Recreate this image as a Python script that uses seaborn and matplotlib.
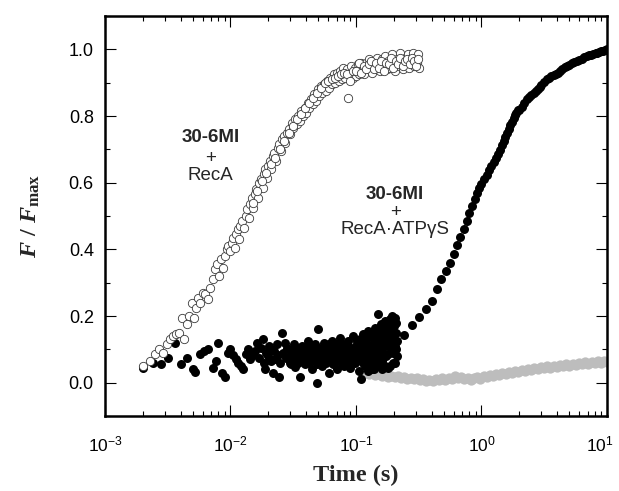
import numpy as np
import pandas as pd
import seaborn as sns
import matplotlib
matplotlib.use('Agg')
import matplotlib.pyplot as plt
from matplotlib.ticker import LogLocator, MultipleLocator, FormatStrFormatter
from matplotlib.transforms import ScaledTranslation

# 30-6MI + RecA (open circles)
reca_t = [0.0020, 0.0023, 0.0025, 0.0027, 0.0029, 0.0031, 0.0033, 0.0035, 0.0037, 0.0039,
          0.0041, 0.0043, 0.0045, 0.0047, 0.0049, 0.0051, 0.0053, 0.0055, 0.0057, 0.0060,
          0.0063, 0.0066, 0.0069, 0.0072, 0.0075, 0.0078, 0.0081, 0.0084, 0.0087, 0.0090,
          0.0093, 0.0096, 0.0099, 0.0102, 0.0105, 0.0108, 0.0111, 0.0114, 0.0117, 0.0120,
          0.0124, 0.0128, 0.0132, 0.0136, 0.0140, 0.0144, 0.0148, 0.0152, 0.0156, 0.0160,
          0.0165, 0.0170, 0.0175, 0.0180, 0.0185, 0.0190, 0.0195, 0.0200, 0.0206, 0.0212,
          0.0218, 0.0224, 0.0230, 0.0237, 0.0244, 0.0251, 0.0258, 0.0266, 0.0274, 0.0282,
          0.0290, 0.0299, 0.0308, 0.0317, 0.0327, 0.0337, 0.0347, 0.0357, 0.0368, 0.0379,
          0.0390, 0.0402, 0.0414, 0.0426, 0.0439, 0.0452, 0.0466, 0.0480, 0.0494, 0.0509,
          0.0524, 0.0540, 0.0556, 0.0573, 0.0590, 0.0608, 0.0626, 0.0645, 0.0664, 0.0684,
          0.0705, 0.0726, 0.0748, 0.0770, 0.0793, 0.0817, 0.0842, 0.0867, 0.0893, 0.0920,
          0.0948, 0.0976, 0.1005, 0.1035, 0.1066, 0.1098, 0.1131, 0.1165, 0.1200, 0.1236,
          0.1273, 0.1311, 0.1350, 0.1391, 0.1433, 0.1476, 0.1520, 0.1566, 0.1613, 0.1661,
          0.1711, 0.1762, 0.1815, 0.1870, 0.1926, 0.1984, 0.2043, 0.2104, 0.2167, 0.2232,
          0.2299, 0.2368, 0.2439, 0.2512, 0.2588, 0.2665, 0.2745, 0.2828, 0.2912, 0.3000,
          0.3050, 0.3100, 0.3150,
          0.0150, 0.0163, 0.0178, 0.0193, 0.0209, 0.0227, 0.0247, 0.0268, 0.0290, 0.0314,
          0.0340, 0.0366, 0.0395, 0.0425, 0.0458, 0.0490, 0.0530, 0.0565, 0.0600, 0.0640,
          0.0680, 0.0720, 0.0760, 0.0800, 0.0850, 0.0900, 0.0950, 0.1000, 0.1050, 0.1100,
          0.1150, 0.1200, 0.1260, 0.1320, 0.1380, 0.1450, 0.1520, 0.1590, 0.1660, 0.1740,
          0.1820, 0.1900, 0.1980, 0.2070, 0.2160, 0.2260, 0.2360, 0.2460, 0.2570, 0.2680,
          0.2800, 0.2920, 0.3030, 0.3120]
reca_f = [0.050, 0.065, 0.085, 0.100, 0.090, 0.115, 0.130, 0.140, 0.145, 0.150,
          0.195, 0.130, 0.175, 0.200, 0.240, 0.195, 0.225, 0.255, 0.240, 0.270,
          0.265, 0.250, 0.285, 0.310, 0.340, 0.355, 0.320, 0.370, 0.345, 0.380,
          0.400, 0.410, 0.395, 0.420, 0.435, 0.405, 0.445, 0.460, 0.430, 0.470,
          0.485, 0.465, 0.500, 0.520, 0.495, 0.535, 0.555, 0.525, 0.565, 0.580,
          0.555, 0.600, 0.610, 0.585, 0.625, 0.640, 0.615, 0.650, 0.665, 0.640,
          0.680, 0.690, 0.665, 0.705, 0.715, 0.695, 0.730, 0.740, 0.720, 0.750,
          0.760, 0.745, 0.780, 0.765, 0.790, 0.775, 0.800, 0.785, 0.815, 0.800,
          0.825, 0.810, 0.840, 0.825, 0.850, 0.835, 0.865, 0.845, 0.880, 0.860,
          0.890, 0.870, 0.895, 0.875, 0.905, 0.885, 0.915, 0.895, 0.925, 0.900,
          0.930, 0.905, 0.935, 0.910, 0.945, 0.915, 0.940, 0.855, 0.925, 0.950,
          0.915, 0.945, 0.920, 0.955, 0.925, 0.960, 0.930, 0.925, 0.960, 0.940,
          0.970, 0.950, 0.930, 0.965, 0.945, 0.975, 0.955, 0.935, 0.970, 0.950,
          0.980, 0.940, 0.965, 0.945, 0.985, 0.955, 0.935, 0.970, 0.950, 0.990,
          0.960, 0.940, 0.975, 0.955, 0.985, 0.945, 0.965, 0.990, 0.950, 0.975,
          0.960, 0.985, 0.945,
          0.540, 0.575, 0.605, 0.630, 0.655, 0.675, 0.700, 0.725, 0.750, 0.770,
          0.790, 0.805, 0.825, 0.840, 0.855, 0.870, 0.885, 0.900, 0.905, 0.910,
          0.915, 0.920, 0.925, 0.930, 0.925, 0.905, 0.935, 0.935, 0.960, 0.930,
          0.950, 0.940, 0.955, 0.965, 0.940, 0.960, 0.945, 0.965, 0.935, 0.960,
          0.955, 0.975, 0.945, 0.965, 0.955, 0.975, 0.950, 0.965, 0.970, 0.955,
          0.975, 0.965, 0.950, 0.970]

# 30-6MI + RecA-ATPgS (filled black)
atp_t = [0.0020, 0.0024, 0.0028, 0.0032, 0.0036, 0.0040, 0.0045, 0.0050, 0.0052, 0.0057,
         0.0062, 0.0066, 0.0072, 0.0076, 0.0079, 0.0085, 0.0090, 0.0095, 0.0099, 0.0105,
         0.0110, 0.0115, 0.0121, 0.0126, 0.0132, 0.0138, 0.0144, 0.0150, 0.0156, 0.0162,
         0.0168, 0.0174, 0.0180, 0.0184, 0.0188, 0.0193, 0.0198, 0.0203, 0.0207, 0.0212,
         0.0218, 0.0223, 0.0228, 0.0234, 0.0240, 0.0245, 0.0250, 0.0257, 0.0263, 0.0270,
         0.0276, 0.0283, 0.0290, 0.0297, 0.0304, 0.0311, 0.0318, 0.0326, 0.0334, 0.0342,
         0.0350, 0.0357, 0.0365, 0.0373, 0.0381, 0.0390, 0.0398, 0.0407, 0.0416, 0.0425,
         0.0434, 0.0443, 0.0452, 0.0462, 0.0472, 0.0482, 0.0488, 0.0495, 0.0505, 0.0515,
         0.0525, 0.0536, 0.0547, 0.0558, 0.0569, 0.0580, 0.0592, 0.0604, 0.0616, 0.0628,
         0.0641, 0.0654, 0.0667, 0.0680, 0.0694, 0.0708, 0.0722, 0.0736, 0.0751, 0.0766,
         0.0781, 0.0797, 0.0813, 0.0829, 0.0846, 0.0863, 0.0880, 0.0898, 0.0916, 0.0934,
         0.0953, 0.0972, 0.0991, 0.1011, 0.1031, 0.1052, 0.1073, 0.1094, 0.1100, 0.1116,
         0.1138, 0.1161, 0.1184, 0.1208, 0.1232, 0.1257, 0.1282, 0.1308, 0.1334, 0.1361,
         0.1388, 0.1416, 0.1444, 0.1473, 0.1500, 0.1502, 0.1532, 0.1563, 0.1594, 0.1626,
         0.1658, 0.1691, 0.1725, 0.1760, 0.1795, 0.1831, 0.1868, 0.1905, 0.1930, 0.1943,
         0.1982, 0.2022, 0.2062, 0.2100, 0.2110,
         0.0305, 0.0315, 0.0330, 0.0345, 0.0360, 0.0378, 0.0395, 0.0412, 0.0430, 0.0448,
         0.0466, 0.0485, 0.0500, 0.0520, 0.0540, 0.0560, 0.0575, 0.0595, 0.0610, 0.0635,
         0.0660, 0.0675, 0.0700, 0.0715, 0.0745, 0.0770, 0.0790, 0.0820, 0.0840, 0.0870,
         0.0890, 0.0925, 0.0945, 0.0980, 0.1000, 0.1020, 0.1045, 0.1080, 0.1105, 0.1130,
         0.1150, 0.1175, 0.1195, 0.1220, 0.1245, 0.1270, 0.1295, 0.1320, 0.1350, 0.1375,
         0.1400, 0.1430, 0.1460, 0.1490, 0.1520, 0.1550, 0.1580, 0.1610, 0.1640, 0.1675,
         0.1710, 0.1740, 0.1780, 0.1815, 0.1850, 0.1885, 0.1920, 0.1960, 0.2000, 0.2040,
         0.2080, 0.2090, 0.2105, 0.2060, 0.1990, 0.1850, 0.1700, 0.1600, 0.1400, 0.1250,
         0.24, 0.28, 0.32, 0.36, 0.40, 0.44, 0.48, 0.52, 0.56, 0.60,
         0.64, 0.68, 0.72, 0.76, 0.80, 0.84, 0.88, 0.92, 0.96,
         1.00, 1.05, 1.10, 1.15, 1.20, 1.25, 1.30, 1.35, 1.40, 1.45,
         1.50, 1.55, 1.60, 1.65, 1.70, 1.75, 1.80, 1.85, 1.90, 1.95,
         2.00, 2.10, 2.20, 2.30, 2.40, 2.50, 2.60, 2.70, 2.80, 2.90,
         3.00, 3.15, 3.30, 3.45, 3.60, 3.75, 3.90, 4.05, 4.20, 4.40,
         4.60, 4.80, 5.00, 5.25, 5.50, 5.75, 6.00, 6.30, 6.60, 6.90,
         7.20, 7.50, 7.80, 8.10, 8.40, 8.70, 9.00, 9.30, 9.60, 10.0]
atp_f = [0.045, 0.060, 0.055, 0.075, 0.120, 0.055, 0.075, 0.040, 0.033, 0.085,
         0.095, 0.100, 0.045, 0.065, 0.120, 0.030, 0.018, 0.090, 0.100, 0.084,
         0.070, 0.060, 0.050, 0.040, 0.085, 0.100, 0.070, 0.084, 0.095, 0.120,
         0.075, 0.105, 0.130, 0.060, 0.040, 0.090, 0.080, 0.110, 0.100, 0.065,
         0.030, 0.095, 0.070, 0.115, 0.084, 0.018, 0.060, 0.150, 0.090, 0.120,
         0.075, 0.105, 0.078, 0.060, 0.095, 0.085, 0.115, 0.048, 0.070, 0.100,
         0.080, 0.018, 0.065, 0.110, 0.090, 0.055, 0.075, 0.100, 0.125, 0.060,
         0.085, 0.040, 0.095, 0.070, 0.115, 0.080, 0.000, 0.160, 0.065, 0.090,
         0.105, 0.050, 0.075, 0.120, 0.085, 0.060, 0.100, 0.030, 0.090, 0.070,
         0.125, 0.055, 0.095, 0.080, 0.110, 0.040, 0.090, 0.065, 0.135, 0.075,
         0.100, 0.050, 0.115, 0.085, 0.060, 0.125, 0.095, 0.045, 0.105, 0.075,
         0.140, 0.090, 0.060, 0.115, 0.080, 0.035, 0.130, 0.095, 0.010, 0.065,
         0.145, 0.100, 0.050, 0.120, 0.085, 0.155, 0.060, 0.110, 0.040, 0.135,
         0.090, 0.165, 0.070, 0.120, 0.205, 0.050, 0.150, 0.095, 0.175, 0.065,
         0.130, 0.185, 0.080, 0.155, 0.045, 0.120, 0.190, 0.095, 0.200, 0.140,
         0.060, 0.170, 0.110, 0.180, 0.080,
         0.055, 0.100, 0.090, 0.060, 0.095, 0.075, 0.105, 0.080, 0.065, 0.110,
         0.090, 0.055, 0.100, 0.080, 0.095, 0.065, 0.105, 0.080, 0.115, 0.090,
         0.070, 0.100, 0.085, 0.120, 0.095, 0.060, 0.085, 0.100, 0.075, 0.110,
         0.080, 0.095, 0.065, 0.105, 0.085, 0.125, 0.070, 0.110, 0.085, 0.060,
         0.120, 0.095, 0.075, 0.135, 0.105, 0.080, 0.140, 0.095, 0.065, 0.115,
         0.150, 0.100, 0.080, 0.135, 0.110, 0.070, 0.160, 0.120, 0.090, 0.150,
         0.110, 0.175, 0.130, 0.085, 0.160, 0.140, 0.105, 0.175, 0.130, 0.195,
         0.150, 0.100, 0.125, 0.060, 0.090, 0.050, 0.050, 0.040, 0.040, 0.035,
         0.144, 0.172, 0.198, 0.220, 0.245, 0.280, 0.310, 0.335, 0.360, 0.385,
         0.412, 0.438, 0.462, 0.485, 0.508, 0.530, 0.550, 0.568, 0.585,
         0.595, 0.610, 0.623, 0.637, 0.650, 0.663, 0.675, 0.687, 0.699, 0.712,
         0.726, 0.738, 0.750, 0.761, 0.772, 0.783, 0.794, 0.802, 0.810, 0.817,
         0.817, 0.828, 0.839, 0.850, 0.857, 0.864, 0.870, 0.876, 0.882, 0.888,
         0.894, 0.902, 0.910, 0.914, 0.919, 0.923, 0.927, 0.930, 0.934, 0.941,
         0.946, 0.950, 0.954, 0.958, 0.961, 0.964, 0.968, 0.972, 0.976, 0.980,
         0.982, 0.984, 0.986, 0.988, 0.990, 0.992, 0.994, 0.996, 0.998, 1.000]

# control (gray)
ctrl_t = [0.120, 0.127, 0.135, 0.143, 0.152, 0.161, 0.170, 0.181, 0.191, 0.203,
          0.215, 0.228, 0.242, 0.256, 0.272, 0.288, 0.305, 0.324, 0.343, 0.364,
          0.385, 0.409, 0.433, 0.459, 0.487, 0.516, 0.547, 0.580, 0.615, 0.652,
          0.691, 0.732, 0.776, 0.823, 0.872, 0.925, 0.980, 1.04, 1.10, 1.17,
          1.24, 1.31, 1.39, 1.47, 1.56, 1.66, 1.76, 1.86, 1.97, 2.09,
          2.22, 2.35, 2.49, 2.64, 2.80, 2.97, 3.15, 3.34, 3.54, 3.75,
          3.97, 4.21, 4.47, 4.73, 5.02, 5.32, 5.64, 5.98, 6.34, 6.72,
          7.12, 7.55, 8.00, 8.48, 8.99, 9.53, 10.0]
ctrl_f = [0.030, 0.026, 0.028, 0.022, 0.025, 0.020, 0.023, 0.018, 0.021, 0.016,
          0.019, 0.014, 0.017, 0.012, 0.015, 0.010, 0.013, 0.008, 0.011, 0.006,
          0.009, 0.005, 0.010, 0.007, 0.013, 0.009, 0.015, 0.011, 0.020, 0.014,
          0.018, 0.010, 0.015, 0.008, 0.013, 0.017, 0.012, 0.020, 0.016, 0.023,
          0.019, 0.026, 0.022, 0.029, 0.025, 0.032, 0.028, 0.035, 0.031, 0.038,
          0.034, 0.041, 0.037, 0.044, 0.040, 0.047, 0.043, 0.049, 0.045, 0.051,
          0.047, 0.053, 0.049, 0.055, 0.051, 0.057, 0.053, 0.059, 0.055, 0.061,
          0.057, 0.063, 0.059, 0.064, 0.060, 0.066, 0.062]

sns.set_style('ticks')
plt.rcParams['font.family'] = ['Liberation Sans', 'DejaVu Sans']
plt.rcParams['mathtext.fontset'] = 'custom'
plt.rcParams['mathtext.it'] = 'Liberation Serif:bold:italic'
plt.rcParams['mathtext.bf'] = 'Liberation Serif:bold'
plt.rcParams['mathtext.rm'] = 'Liberation Serif:bold'
plt.rcParams['axes.unicode_minus'] = False

fig = plt.figure(figsize=(6.19, 4.91), dpi=100)
ax = fig.add_axes([0.1696, 0.1527, 0.8110, 0.8147])

sns.scatterplot(x=ctrl_t, y=ctrl_f, ax=ax, s=55, color='#bdbdbd', edgecolor='#bdbdbd',
                linewidth=0, zorder=2)
sns.scatterplot(x=atp_t, y=atp_f, ax=ax, s=42, color='black', edgecolor='black',
                linewidth=0, zorder=3)
sns.scatterplot(x=reca_t, y=reca_f, ax=ax, s=36, color='white', edgecolor='#3a3a3a',
                linewidth=0.6, zorder=4)

ax.set_xscale('log')
ax.set_xlim(1e-3, 1e1)
ax.set_ylim(-0.1, 1.1)
ax.xaxis.set_major_locator(LogLocator(base=10, numticks=10))
ax.xaxis.set_minor_locator(LogLocator(base=10, subs=np.arange(2, 10), numticks=20))
ax.yaxis.set_major_locator(MultipleLocator(0.2))
ax.yaxis.set_minor_locator(MultipleLocator(0.1))
ax.yaxis.set_major_formatter(FormatStrFormatter('%.1f'))

for sp in ax.spines.values():
    sp.set_linewidth(1.8)
    sp.set_color('black')
ax.tick_params(which='both', direction='in', top=True, right=True, width=0.8, colors='black')
ax.tick_params(which='major', length=8)
ax.tick_params(which='minor', length=3.5)
ax.tick_params(axis='y', which='major', labelsize=13, pad=8)
ax.tick_params(axis='x', which='major', labelsize=12.5, pad=13)

ax.set_xlabel('Time (s)', fontfamily='Liberation Serif', fontweight='bold', fontsize=17.5, labelpad=8)
ax.set_ylabel(r'$F$ / $F_{\mathbf{max}}$', fontfamily='Liberation Serif', fontweight='bold',
              fontsize=17.5)
ax.yaxis.set_label_coords(-0.125, 0.5)

ax.text(6.9e-3, 0.736, '30-6MI', ha='center', va='center', fontsize=13.5, fontweight='bold')
ax.text(6.9e-3, 0.673, '+', ha='center', va='center', fontsize=13.5)
ax.text(6.9e-3, 0.622, 'RecA', ha='center', va='center', fontsize=13.5)
ax.text(0.205, 0.565, '30-6MI', ha='center', va='center', fontsize=13.5, fontweight='bold')
ax.text(0.205, 0.510, '+', ha='center', va='center', fontsize=13.5)
ax.text(0.205, 0.460, 'RecA\u00b7ATP\u03b3S', ha='center', va='center', fontsize=13.5)

# keep the 10^1 label inside the figure, as in the original
fig.canvas.draw()
for tk in ax.xaxis.get_major_ticks():
    if abs(tk.get_loc() - 10.0) < 1e-6:
        lab = tk.label1
        lab.set_transform(lab.get_transform() + ScaledTranslation(-0.07, 0, fig.dpi_scale_trans))

fig.savefig('out.png', dpi=100)
